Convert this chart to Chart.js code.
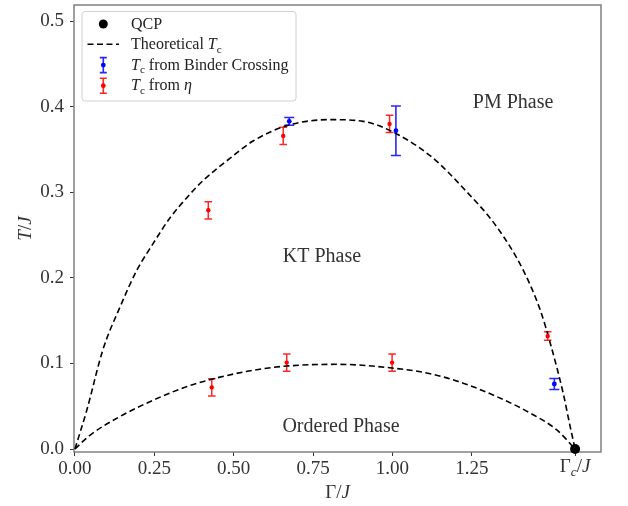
<!DOCTYPE html>
<html>
<head>
<meta charset="utf-8">
<script src="https://cdn.jsdelivr.net/npm/chart.js@4/dist/chart.umd.min.js"></script>
<style>
  html, body { margin: 0; padding: 0; background: #fff; }
  #wrap { width: 628px; height: 506px; position: relative; }
</style>
</head>
<body>
<div id="wrap"><canvas id="phaseChart"></canvas></div>
<script>
// critical field (position of the QCP)
const gammaC = 1.5754;

// axis ticks
const xTicks = [0, 0.25, 0.5, 0.75, 1.0, 1.25, gammaC];
const yTicks = [0, 0.1, 0.2, 0.3, 0.4, 0.5];

// theoretical Tc, upper (KT -> PM) branch
const upperG = [0, 0.037, 0.088, 0.142, 0.195, 0.246, 0.299, 0.353, 0.404, 0.489, 0.561, 0.668, 0.804, 0.908, 1.015, 1.128, 1.223, 1.330, 1.412, 1.466, 1.497, 1.538, 1.560, gammaC];
const upperT = [0, 0.045, 0.116, 0.166, 0.209, 0.240, 0.270, 0.294, 0.314, 0.340, 0.360, 0.378, 0.385, 0.383, 0.368, 0.340, 0.305, 0.259, 0.209, 0.162, 0.124, 0.065, 0.026, 0];

// theoretical Tc, lower (ordered -> KT) branch
const lowerG = [0, 0.047, 0.142, 0.246, 0.353, 0.457, 0.561, 0.668, 0.826, 1.015, 1.119, 1.223, 1.330, 1.434, 1.519, gammaC];
const lowerT = [0, 0.016, 0.038, 0.057, 0.073, 0.084, 0.092, 0.097, 0.099, 0.094, 0.088, 0.077, 0.061, 0.042, 0.022, 0];

// Tc from eta
const etaG   = [0.420, 0.656, 0.991, 1.489, 0.431, 0.667, 0.999];
const etaT   = [0.279, 0.366, 0.380, 0.132, 0.072, 0.101, 0.101];
const etaErr = [0.010, 0.010, 0.010, 0.005, 0.010, 0.010, 0.010];

// Tc from Binder crossing
const binderG   = [0.675, 1.011, 1.510];
const binderT   = [0.383, 0.372, 0.076];
const binderErr = [0.0045, 0.029, 0.0065];

// QCP
const qcpG = [gammaC];
const qcpT = [0];

// phase labels (data coords, text baseline)
const phaseNames = ['PM Phase', 'KT Phase', 'Ordered Phase'];
const phaseG = [1.380, 0.778, 0.838];
const phaseT = [0.399, 0.219, 0.0198];

const FONT = '"Liberation Serif", "DejaVu Serif", serif';
const pts = (xs, ys) => xs.map((v, i) => ({ x: v, y: ys[i] }));

// draw a run of text pieces (italic / subscript) on one baseline
function drawRich(ctx, parts, x, y, size, align) {
  const fontOf = p => `${p.i ? 'italic ' : ''}${p.sub ? size * 0.7 : size}px ${FONT}`;
  let w = 0;
  parts.forEach(p => { ctx.font = fontOf(p); w += ctx.measureText(p.t).width; });
  let cx = align === 'center' ? x - w / 2 : x;
  ctx.textAlign = 'left';
  ctx.textBaseline = 'alphabetic';
  parts.forEach(p => {
    ctx.font = fontOf(p);
    ctx.fillText(p.t, cx, y + (p.sub ? size * 0.22 : 0));
    cx += ctx.measureText(p.t).width;
  });
}

function errBar(ctx, px, top, bottom, cap, color, lw) {
  ctx.strokeStyle = color;
  ctx.lineWidth = lw;
  ctx.beginPath();
  ctx.moveTo(px, top); ctx.lineTo(px, bottom);
  ctx.moveTo(px - cap, top); ctx.lineTo(px + cap, top);
  ctx.moveTo(px - cap, bottom); ctx.lineTo(px + cap, bottom);
  ctx.stroke();
}

const framePlugin = {
  id: 'frameAndErrors',
  beforeDatasetsDraw(chart) {
    const { ctx, chartArea: a, scales: { x, y } } = chart;
    ctx.save();
    ctx.strokeStyle = '#808080';
    ctx.lineWidth = 1.5;
    ctx.strokeRect(a.left, a.top, a.right - a.left, a.bottom - a.top);

    etaG.forEach((g, i) => {
      errBar(ctx, x.getPixelForValue(g), y.getPixelForValue(etaT[i] + etaErr[i]),
        y.getPixelForValue(etaT[i] - etaErr[i]), 3.8, 'rgba(255,0,0,0.85)', 1.5);
    });
    binderG.forEach((g, i) => {
      errBar(ctx, x.getPixelForValue(g), y.getPixelForValue(binderT[i] + binderErr[i]),
        y.getPixelForValue(binderT[i] - binderErr[i]), 5, 'rgba(0,0,255,0.85)', 1.6);
    });
    ctx.restore();
  },
  afterDraw(chart) {
    const { ctx, chartArea: a, scales: { x, y } } = chart;
    ctx.save();
    ctx.fillStyle = '#333';

    // phase labels
    ctx.font = `20px ${FONT}`;
    ctx.textAlign = 'center';
    ctx.textBaseline = 'alphabetic';
    phaseNames.forEach((n, i) => ctx.fillText(n, x.getPixelForValue(phaseG[i]), y.getPixelForValue(phaseT[i])));

    // special tick label Gamma_c / J
    drawRich(ctx, [{ t: 'Γ' }, { t: 'c', i: true, sub: true }, { t: '/' }, { t: 'J', i: true }],
      x.getPixelForValue(gammaC), a.bottom + 20, 19, 'center');

    // axis titles
    drawRich(ctx, [{ t: 'Γ' }, { t: '/' }, { t: 'J', i: true }], (a.left + a.right) / 2, 498, 19, 'center');
    ctx.save();
    ctx.translate(25, (a.top + a.bottom) / 2);
    ctx.rotate(-Math.PI / 2);
    drawRich(ctx, [{ t: 'T', i: true }, { t: '/' }, { t: 'J', i: true }], 0, 6, 19, 'center');
    ctx.restore();

    // legend
    ctx.beginPath();
    ctx.roundRect(82, 11.5, 214, 89.5, 3);
    ctx.fillStyle = 'rgba(255,255,255,0.8)';
    ctx.fill();
    ctx.strokeStyle = '#d0d0d0';
    ctx.lineWidth = 1;
    ctx.stroke();

    const hx = 103.3, tx = 131, base = [28.5, 49, 69.6, 90.2];
    // QCP
    ctx.fillStyle = '#000';
    ctx.beginPath(); ctx.arc(hx, base[0] - 4.5, 4.5, 0, Math.PI * 2); ctx.fill();
    // theory line
    ctx.strokeStyle = '#000'; ctx.lineWidth = 1.6; ctx.setLineDash([6, 3.5]);
    ctx.beginPath(); ctx.moveTo(87.5, base[1] - 4.8); ctx.lineTo(119, base[1] - 4.8); ctx.stroke();
    ctx.setLineDash([]);
    // binder
    errBar(ctx, hx, base[2] - 12, base[2] + 3, 3.5, 'rgba(0,0,255,0.85)', 1.6);
    ctx.fillStyle = '#0000ff';
    ctx.beginPath(); ctx.arc(hx, base[2] - 4.5, 2.4, 0, Math.PI * 2); ctx.fill();
    // eta
    errBar(ctx, hx, base[3] - 12, base[3] + 3, 3.5, 'rgba(255,0,0,0.85)', 1.6);
    ctx.fillStyle = '#ff0000';
    ctx.beginPath(); ctx.arc(hx, base[3] - 4.5, 2.4, 0, Math.PI * 2); ctx.fill();

    ctx.fillStyle = '#222';
    drawRich(ctx, [{ t: 'QCP' }], tx, base[0], 16, 'left');
    drawRich(ctx, [{ t: 'Theoretical ' }, { t: 'T', i: true }, { t: 'c', sub: true }], tx, base[1], 16, 'left');
    drawRich(ctx, [{ t: 'T', i: true }, { t: 'c', sub: true }, { t: ' from Binder Crossing' }], tx, base[2], 16, 'left');
    drawRich(ctx, [{ t: 'T', i: true }, { t: 'c', sub: true }, { t: ' from ' }, { t: 'η', i: true }], tx, base[3], 16, 'left');
    ctx.restore();
  }
};

const curveStyle = {
  showLine: true, pointRadius: 0, borderColor: '#000', borderWidth: 1.6,
  borderDash: [6, 3.5], cubicInterpolationMode: 'monotone', fill: false
};

new Chart(document.getElementById('phaseChart'), {
  type: 'scatter',
  data: {
    datasets: [
      { label: 'QCP', data: pts(qcpG, qcpT), pointRadius: 5, backgroundColor: '#000', borderWidth: 0, clip: false },
      { label: 'Tc from Binder Crossing', data: pts(binderG, binderT), pointRadius: 2.4, backgroundColor: '#0000ff', borderWidth: 0 },
      { label: 'Tc from eta', data: pts(etaG, etaT), pointRadius: 2.2, backgroundColor: '#ff0000', borderWidth: 0 },
      { label: 'Theoretical Tc', data: pts(upperG, upperT), ...curveStyle },
      { label: 'Theoretical Tc (lower)', data: pts(lowerG, lowerT), ...curveStyle }
    ]
  },
  options: {
    responsive: true,
    maintainAspectRatio: false,
    animation: false,
    layout: { padding: { left: 0, right: 27, top: 4, bottom: 0 } },
    plugins: { legend: { display: false }, tooltip: { enabled: false } },
    scales: {
      x: {
        min: -0.003, max: 1.657,
        afterBuildTicks: s => { s.ticks = xTicks.map(v => ({ value: v })); },
        afterFit: s => { s.height = 54; s.paddingLeft = 0; s.paddingRight = 0; },
        ticks: {
          callback: v => (v === gammaC ? '' : v.toFixed(2)),
          font: { family: FONT, size: 19 }, color: '#333', padding: 2, maxRotation: 0, autoSkip: false
        },
        grid: { drawOnChartArea: false, tickLength: 4, color: '#333' },
        border: { display: false }
      },
      y: {
        min: -0.0035, max: 0.519,
        afterBuildTicks: s => { s.ticks = yTicks.map(v => ({ value: v })); },
        afterFit: s => { s.width = 74; s.paddingTop = 0; s.paddingBottom = 0; },
        ticks: {
          callback: v => v.toFixed(1),
          font: { family: FONT, size: 19 }, color: '#333', padding: 6
        },
        grid: { drawOnChartArea: false, tickLength: 4, color: '#333' },
        border: { display: false }
      }
    }
  },
  plugins: [framePlugin]
});
</script>
</body>
</html>
